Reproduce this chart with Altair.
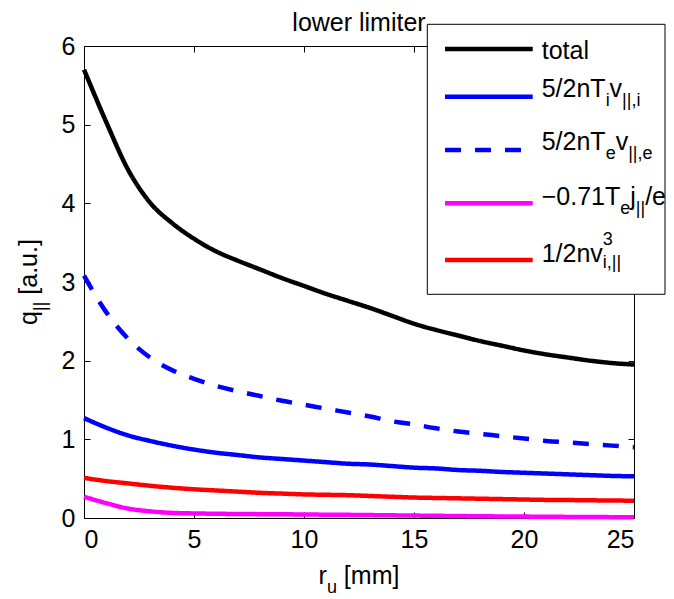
import altair as alt
import pandas as pd

# ---------------- data ----------------
r_mm = list(range(26))
q_total = [5.70, 5.04, 4.43, 4.01, 3.75, 3.55, 3.39, 3.27, 3.16, 3.05, 2.95, 2.85, 2.76,
           2.67, 2.57, 2.47, 2.39, 2.32, 2.25, 2.19, 2.13, 2.08, 2.04, 2.00, 1.97, 1.95]
q_ti = [1.27, 1.15, 1.05, 0.98, 0.92, 0.87, 0.83, 0.80, 0.77, 0.75, 0.73, 0.71, 0.69,
        0.68, 0.66, 0.64, 0.63, 0.61, 0.60, 0.585, 0.575, 0.565, 0.555, 0.545, 0.535, 0.53]
q_te = [3.08, 2.62, 2.28, 2.04, 1.88, 1.77, 1.68, 1.61, 1.55, 1.49, 1.44, 1.39, 1.34,
        1.29, 1.23, 1.19, 1.14, 1.10, 1.07, 1.04, 1.01, 0.98, 0.96, 0.94, 0.92, 0.90]
q_je = [0.27, 0.19, 0.12, 0.085, 0.065, 0.058, 0.054, 0.051, 0.049, 0.047, 0.045, 0.042, 0.040,
        0.037, 0.034, 0.031, 0.028, 0.025, 0.022, 0.020, 0.018, 0.016, 0.014, 0.012, 0.011, 0.010]
q_kin = [0.51, 0.47, 0.44, 0.41, 0.385, 0.365, 0.35, 0.335, 0.32, 0.31, 0.30, 0.295, 0.29,
         0.28, 0.27, 0.26, 0.255, 0.25, 0.245, 0.24, 0.235, 0.23, 0.228, 0.225, 0.222, 0.22]

series_keys = ["total", "ti", "te", "je", "kin"]
series_values = [q_total, q_ti, q_te, q_je, q_kin]
series_colors = ["#000000", "#0000ff", "#0000ff", "#ff00ff", "#ff0000"]
series_dash = [[1, 0], [1, 0], [16, 14], [1, 0], [1, 0]]

x_ticks = [0, 5, 10, 15, 20, 25]
y_ticks = [0, 1, 2, 3, 4, 5, 6]

title_text = "lower limiter"

# ---------------- styling ----------------
FONT = "Liberation Sans"
W, H = 550, 472
BIG, SMALL = 25, 18
LW = 4.5

# Arial / Liberation Sans advance widths (per 1000 em)
ADV = {c: 556 for c in "0123456789"}
ADV.update({"/": 278, "n": 556, "T": 611, "i": 222, "v": 500, "|": 260, ",": 278,
            "e": 556, "\u2212": 584, ".": 278, "j": 222, "u": 556, "r": 333, "q": 556,
            " ": 278, "[": 278, "]": 278, "a": 556, "m": 833, "t": 278, "o": 556,
            "l": 222, "w": 722})


def adv(s, size):
    return sum(ADV.get(c, 556) for c in s) / 1000.0 * size


one = alt.Data(values=[{}])


def txt(s, x, y, size, angle=0, align="left"):
    return alt.Chart(one).mark_text(
        text=s, align=align, baseline="alphabetic", font=FONT, fontSize=size,
        color="black", angle=angle
    ).encode(x=alt.value(x), y=alt.value(y))


def rich(pieces, x0, y0, angle=0):
    """pieces: (text, size, baseline shift, advance?) ; leading spaces are advanced manually"""
    out = []
    pos = 0.0
    for s, size, dy, move in pieces:
        lead = len(s) - len(s.lstrip(" "))
        pos += adv(" " * lead, size)
        body = s.lstrip(" ")
        if angle == 0:
            out.append(txt(body, x0 + pos, y0 + dy, size))
        else:
            out.append(txt(body, x0 + dy, y0 - pos, size, angle=angle))
        if move:
            pos += adv(body, size)
    return out


def rich_width(pieces):
    return sum(adv(s, z) for s, z, _, m in pieces if m)


# ---------------- curves ----------------
rows = []
for k, vals in zip(series_keys, series_values):
    for x, v in zip(r_mm, vals):
        rows.append({"r": x, "q": v, "s": k})
df = pd.DataFrame(rows)

xs = alt.Scale(domain=[0, 25], nice=False)
ys = alt.Scale(domain=[0, 6], nice=False)
ax_common = dict(title=None, grid=False, domain=False, tickSize=6, tickWidth=1,
                 tickColor="black", offset=-6, labelFont=FONT, labelFontSize=BIG,
                 labelColor="black")

curves = alt.Chart(df).mark_line(strokeWidth=LW, interpolate="monotone").encode(
    x=alt.X("r:Q", scale=xs, axis=alt.Axis(orient="bottom", values=x_ticks,
                                            labelPadding=9, **ax_common)),
    y=alt.Y("q:Q", scale=ys, axis=alt.Axis(orient="left", values=y_ticks,
                                            labelPadding=9, **ax_common)),
    color=alt.Color("s:N", scale=alt.Scale(domain=series_keys, range=series_colors), legend=None),
    strokeDash=alt.StrokeDash("s:N", scale=alt.Scale(domain=series_keys, range=series_dash),
                              legend=None),
    detail="s:N",
)

frame_axes = alt.Chart(df).mark_point(opacity=0).encode(
    x=alt.X("r:Q", scale=xs, axis=alt.Axis(orient="top", values=x_ticks, labels=False, **ax_common)),
    y=alt.Y("q:Q", scale=ys, axis=alt.Axis(orient="right", values=y_ticks, labels=False, **ax_common)),
)

# ---------------- legend (drawn by hand for sub/superscripts) ----------------
LX0, LX1, LY0, LY1 = 343.3, 581.0, -21.7, 248.3
legend_layers = [
    alt.Chart(one).mark_rect(fill="white", stroke="black", strokeWidth=1).encode(
        x=alt.value(LX0), x2=alt.value(LX1), y=alt.value(LY0), y2=alt.value(LY1))
]
line_y = [3, 50.7, 104, 157.3, 214]
for c, d, yy in zip(series_colors, series_dash, line_y):
    legend_layers.append(
        alt.Chart(one).mark_rule(color=c, strokeWidth=LW, strokeDash=d).encode(
            x=alt.value(361), x2=alt.value(448.7), y=alt.value(yy)))

TX = 457.7
SUB = 9
legend_layers += rich([("total", BIG, 0, True)], TX, 13)
legend_layers += rich([("5/2nT", BIG, 0, True), ("i", SMALL, SUB, True), ("v", BIG, 0, True),
                       ("||,i", SMALL, SUB, True)], TX, 50.7)
legend_layers += rich([("5/2nT", BIG, 0, True), ("e", SMALL, SUB, True), ("v", BIG, 0, True),
                       ("||,e", SMALL, SUB, True)], TX, 104)
legend_layers += rich([("\u22120.71T", BIG, 0, True), ("e", SMALL, SUB, True), ("j", BIG, 0, True),
                       ("||", SMALL, SUB, True), ("/e", BIG, 0, True)], TX, 159)
legend_layers += rich([("1/2nv", BIG, 0, True), ("3", SMALL, -17, False),
                       ("i,||", SMALL, 6, True)], TX, 216)

# ---------------- titles ----------------
title_layers = [txt(title_text, W / 2, -15, 25, align="center")]
xt = [("r", BIG, 0, True), ("u", SMALL, SUB, True), (" [mm]", BIG, 0, True)]
title_layers += rich(xt, W / 2 - rich_width(xt) / 2, 538, 0)
yt = [("q", BIG, 0, True), ("||", SMALL, SUB, True), (" [a.u.]", BIG, 0, True)]
title_layers += rich(yt, -47, H / 2 + rich_width(yt) / 2, 270)

chart = alt.layer(curves, frame_axes, *legend_layers, *title_layers).resolve_axis(
    x="independent", y="independent"
).properties(
    width=W, height=H,
    autosize=alt.AutoSizeParams(type="none"),
    padding={"left": 76, "top": 38, "right": 32, "bottom": 81},
).configure_view(stroke="black", strokeWidth=1)

chart.save("out.html", embed_options={"renderer": "svg", "actions": False})
